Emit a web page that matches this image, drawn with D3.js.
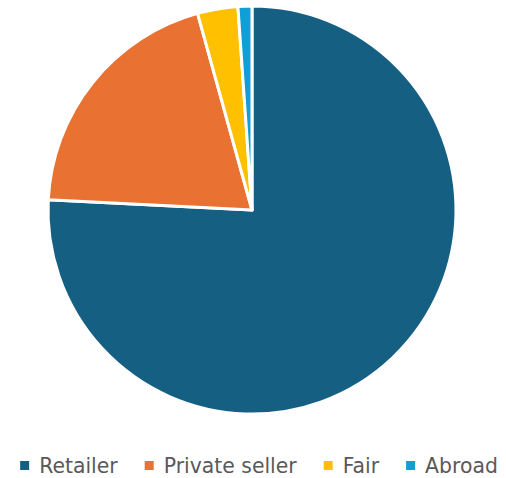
<!DOCTYPE html>
<html>
<head>
<meta charset="utf-8">
<script src="https://cdn.jsdelivr.net/npm/d3@7"></script>
<style>
  body { margin: 0; background: #fff; }
</style>
</head>
<body>
<div id="chart"></div>
<script>
// data (share in %)
var categories = ["Retailer", "Private seller", "Fair", "Abroad"]
var values = [75.8, 19.9, 3.2, 1.1]
var colors = ["#156082", "#E97132", "#FFC000", "#0F9ED5"]

var width = 506
var height = 478

var svg = d3.select("#chart")
  .append("svg")
    .attr("width", width)
    .attr("height", height)

var data = categories.map(function(c, i) { return { name: c, value: values[i] } })

var color = d3.scaleOrdinal().domain(categories).range(colors)

var pie = d3.pie().sort(null).value(function(d) { return d.value })
var arc = d3.arc().innerRadius(0).outerRadius(204)

// pie
var g = svg.append("g").attr("transform", "translate(252,210)")
g.selectAll("path")
  .data(pie(data))
  .enter()
  .append("path")
    .attr("d", arc)
    .attr("fill", function(d) { return color(d.data.name) })
    .attr("stroke", "#fff")
    .attr("stroke-width", 3)
    .attr("stroke-linejoin", "round")

// legend, laid out left to right and centred
var legend = svg.append("g")
var items = legend.selectAll("g")
  .data(categories)
  .enter()
  .append("g")

items.append("rect")
  .attr("width", 9)
  .attr("height", 9)
  .attr("y", -12)
  .attr("fill", function(d) { return color(d) })

items.append("text")
  .attr("x", 19)
  .attr("font-family", "DejaVu Sans, sans-serif")
  .attr("font-size", 20.4)
  .attr("fill", "#595959")
  .text(function(d) { return d })

var gap = 27
var x = 0
items.each(function() {
  var w = d3.select(this).select("text").node().getComputedTextLength() + 19
  d3.select(this).attr("transform", "translate(" + x + ",0)")
  x += w + gap
})
var total = x - gap
legend.attr("transform", "translate(" + ((width - total) / 2 + 6) + ",473)")
</script>
</body>
</html>
